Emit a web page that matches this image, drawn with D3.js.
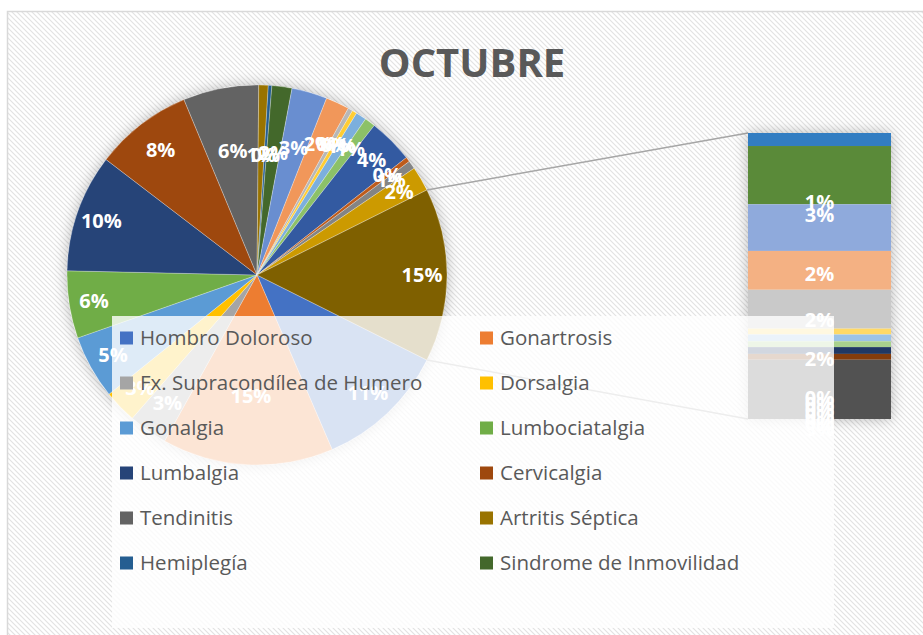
<!doctype html>
<html lang="es">
<head>
<meta charset="utf-8">
<title>Octubre</title>
<script src="https://cdn.jsdelivr.net/npm/d3@7"></script>
<style>
  body { margin: 0; background: #fff; }
  svg { display: block; }
  text { font-family: "Open Sans", "Noto Sans", sans-serif; }
</style>
</head>
<body>
<script>
// data (percent of total)
var legendNames = ["Hombro Doloroso", "Gonartrosis", "Fx. Supracondílea de Humero", "Dorsalgia",
                   "Gonalgia", "Lumbociatalgia", "Lumbalgia", "Cervicalgia",
                   "Tendinitis", "Artritis Séptica", "Hemiplegía", "Sindrome de Inmovilidad"];
var pieValues = [11.1, 14.5, 3.3, 2.8, 5.4, 5.7, 10.0, 8.3, 6.4, 0.8, 0.3, 1.7,
                 3.0, 2.0, 0.4, 0.4, 0.9, 0.9, 3.8, 0.4, 0.7, 2.1];
var barValues = [0.67, 3.0, 2.4, 2.0, 2.0, 0.3, 0.35, 0.3, 0.35, 0.3, 3.05];

// excel office palette, one colour per point, last one goes to "other"
var palette = [
  "#4472C4", "#ED7D31", "#A5A5A5", "#FFC000", "#5B9BD5", "#70AD47",
  "#264478", "#9E480E", "#636363", "#997300", "#255E91", "#43682B",
  "#698ED0", "#F1975A", "#B7B7B7", "#FFCD33", "#7CAFDD", "#8CC168",
  "#335AA1", "#BE5B1B", "#848484", "#CC9A00", "#327DC2", "#5A8A39",
  "#8FAADC", "#F4B183", "#C9C9C9", "#FFD966", "#9DC3E6", "#A9D18E",
  "#203864", "#843C0C", "#525252", "#7F6000"
];

var W = 923, H = 635;
var cx = 257, cy = 275, R = 190;
var bar = {x: 748, w: 143, top: 133, bottom: 419};

var otherValue = d3.sum(barValues);
var total = d3.sum(pieValues) + otherValue;
var pct = function(v) { return Math.round(v / total * 100) + "%"; };

var svg = d3.select("body").append("svg")
    .attr("width", W)
    .attr("height", H);

var defs = svg.append("defs");
var pat = defs.append("pattern")
    .attr("id", "stripes")
    .attr("patternUnits", "userSpaceOnUse")
    .attr("width", 5).attr("height", 5);
pat.append("rect").attr("width", 5).attr("height", 5).attr("fill", "#fff");
pat.append("path")
    .attr("d", "M0,0L5,5M-1,4L1,6M4,-1L6,1")
    .attr("stroke", "#e2e2e2")
    .attr("stroke-width", 1.1);

var shadow = defs.append("filter")
    .attr("id", "shadow")
    .attr("x", "-20%").attr("y", "-20%")
    .attr("width", "140%").attr("height", "140%");
shadow.append("feDropShadow")
    .attr("dx", 0).attr("dy", 0)
    .attr("stdDeviation", 7)
    .attr("flood-color", "#000")
    .attr("flood-opacity", 0.28);

// chart frame
svg.append("rect")
    .attr("x", 7.5).attr("y", 11.5)
    .attr("width", W + 20).attr("height", H + 20)
    .attr("fill", "url(#stripes)")
    .attr("stroke", "#d9d9d9")
    .attr("stroke-width", 1.5);

// title
svg.append("text")
    .attr("x", 472).attr("y", 77)
    .attr("text-anchor", "middle")
    .attr("font-size", 40)
    .attr("font-weight", "bold")
    .attr("fill", "#595959")
    .text("OCTUBRE");

// pie: points in order, "other" last, other centred at 3 o'clock
var pieData = pieValues.map(function(v, i) { return {value: v, color: palette[i]}; });
pieData.push({value: otherValue, color: palette[pieValues.length + barValues.length]});

var otherAngle = otherValue / total * 2 * Math.PI;
var start = Math.PI / 2 + otherAngle / 2;

var pie = d3.pie()
    .sort(null)
    .value(d => d.value)
    .startAngle(start)
    .endAngle(start + 2 * Math.PI);

var arc = d3.arc().innerRadius(0).outerRadius(R);
var arcs = pie(pieData);

var pieG = svg.append("g")
    .attr("transform", "translate(" + cx + "," + cy + ")");

pieG.append("circle")
    .attr("r", R)
    .attr("fill", "#fff")
    .attr("filter", "url(#shadow)");

pieG.selectAll("path.slice")
    .data(arcs)
    .enter()
    .append("path")
    .attr("class", "slice")
    .attr("d", arc)
    .attr("fill", d => d.data.color)
    .attr("stroke", "#fff")
    .attr("stroke-opacity", 0.45)
    .attr("stroke-width", 0.6);

// label radius: excel pulls the labels in near top and bottom
var labelR = function(a) {
    return 165 - 45 * Math.pow(Math.cos(a), 8);
};
pieG.selectAll("text.plabel")
    .data(arcs)
    .enter()
    .append("text")
    .attr("class", "plabel")
    .attr("x", d => labelR((d.startAngle + d.endAngle) / 2) * Math.sin((d.startAngle + d.endAngle) / 2))
    .attr("y", d => -labelR((d.startAngle + d.endAngle) / 2) * Math.cos((d.startAngle + d.endAngle) / 2))
    .attr("dy", "0.36em")
    .attr("text-anchor", "middle")
    .attr("font-size", 20)
    .attr("font-weight", "bold")
    .attr("fill", "#fff")
    .text(d => pct(d.data.value));

// bar of the small points
var yScale = d3.scaleLinear()
    .domain([0, otherValue])
    .range([bar.top, bar.bottom]);

var cum = 0;
var barData = barValues.map(function(v, i) {
    var d = {value: v, y0: cum, y1: cum + v, color: palette[pieValues.length + i]};
    cum += v;
    return d;
});

// connector lines from the "other" slice to the bar
var otherArc = arcs[arcs.length - 1];
svg.append("line")
    .attr("x1", cx + R * Math.sin(otherArc.startAngle))
    .attr("y1", cy - R * Math.cos(otherArc.startAngle))
    .attr("x2", bar.x)
    .attr("y2", yScale(0))
    .attr("stroke", "#a6a6a6")
    .attr("stroke-width", 1.5);
svg.append("line")
    .attr("x1", cx + R * Math.sin(otherArc.endAngle))
    .attr("y1", cy - R * Math.cos(otherArc.endAngle))
    .attr("x2", bar.x)
    .attr("y2", yScale(otherValue))
    .attr("stroke", "#a6a6a6")
    .attr("stroke-width", 1.5);

svg.append("rect")
    .attr("x", bar.x).attr("y", yScale(0))
    .attr("width", bar.w).attr("height", yScale(otherValue) - yScale(0))
    .attr("fill", "#fff")
    .attr("filter", "url(#shadow)");

svg.selectAll("rect.seg")
    .data(barData)
    .enter()
    .append("rect")
    .attr("class", "seg")
    .attr("x", bar.x)
    .attr("y", d => yScale(d.y0))
    .attr("width", bar.w)
    .attr("height", d => yScale(d.y1) - yScale(d.y0))
    .attr("fill", d => d.color);

// excel left the bar labels hanging below their segments
var barLabelDrop = 69;
svg.selectAll("text.blabel")
    .data(barData)
    .enter()
    .append("text")
    .attr("class", "blabel")
    .attr("x", bar.x + bar.w / 2)
    .attr("y", d => yScale(d.y0) + barLabelDrop)
    .attr("dy", "0.36em")
    .attr("text-anchor", "middle")
    .attr("font-size", 20)
    .attr("font-weight", "bold")
    .attr("fill", "#fff")
    .text(d => pct(d.value));

// legend box sits on top of everything, semi transparent
var legend = {x: 112, y: 316, w: 722, h: 312, rowH: 45, colX: [120, 480], firstRow: 338};
svg.append("rect")
    .attr("x", legend.x).attr("y", legend.y)
    .attr("width", legend.w).attr("height", legend.h)
    .attr("fill", "#fff")
    .attr("fill-opacity", 0.8);

var items = svg.selectAll("g.item")
    .data(legendNames)
    .enter()
    .append("g")
    .attr("class", "item")
    .attr("transform", (d, i) => "translate(" + legend.colX[i % 2] + "," + (legend.firstRow + Math.floor(i / 2) * legend.rowH) + ")");

items.append("rect")
    .attr("x", 0).attr("y", -6.5)
    .attr("width", 13).attr("height", 13)
    .attr("fill", (d, i) => palette[i]);

items.append("text")
    .attr("x", 20)
    .attr("dy", "0.36em")
    .attr("font-size", 20.5)
    .attr("fill", "#595959")
    .text(d => d);
</script>
</body>
</html>
